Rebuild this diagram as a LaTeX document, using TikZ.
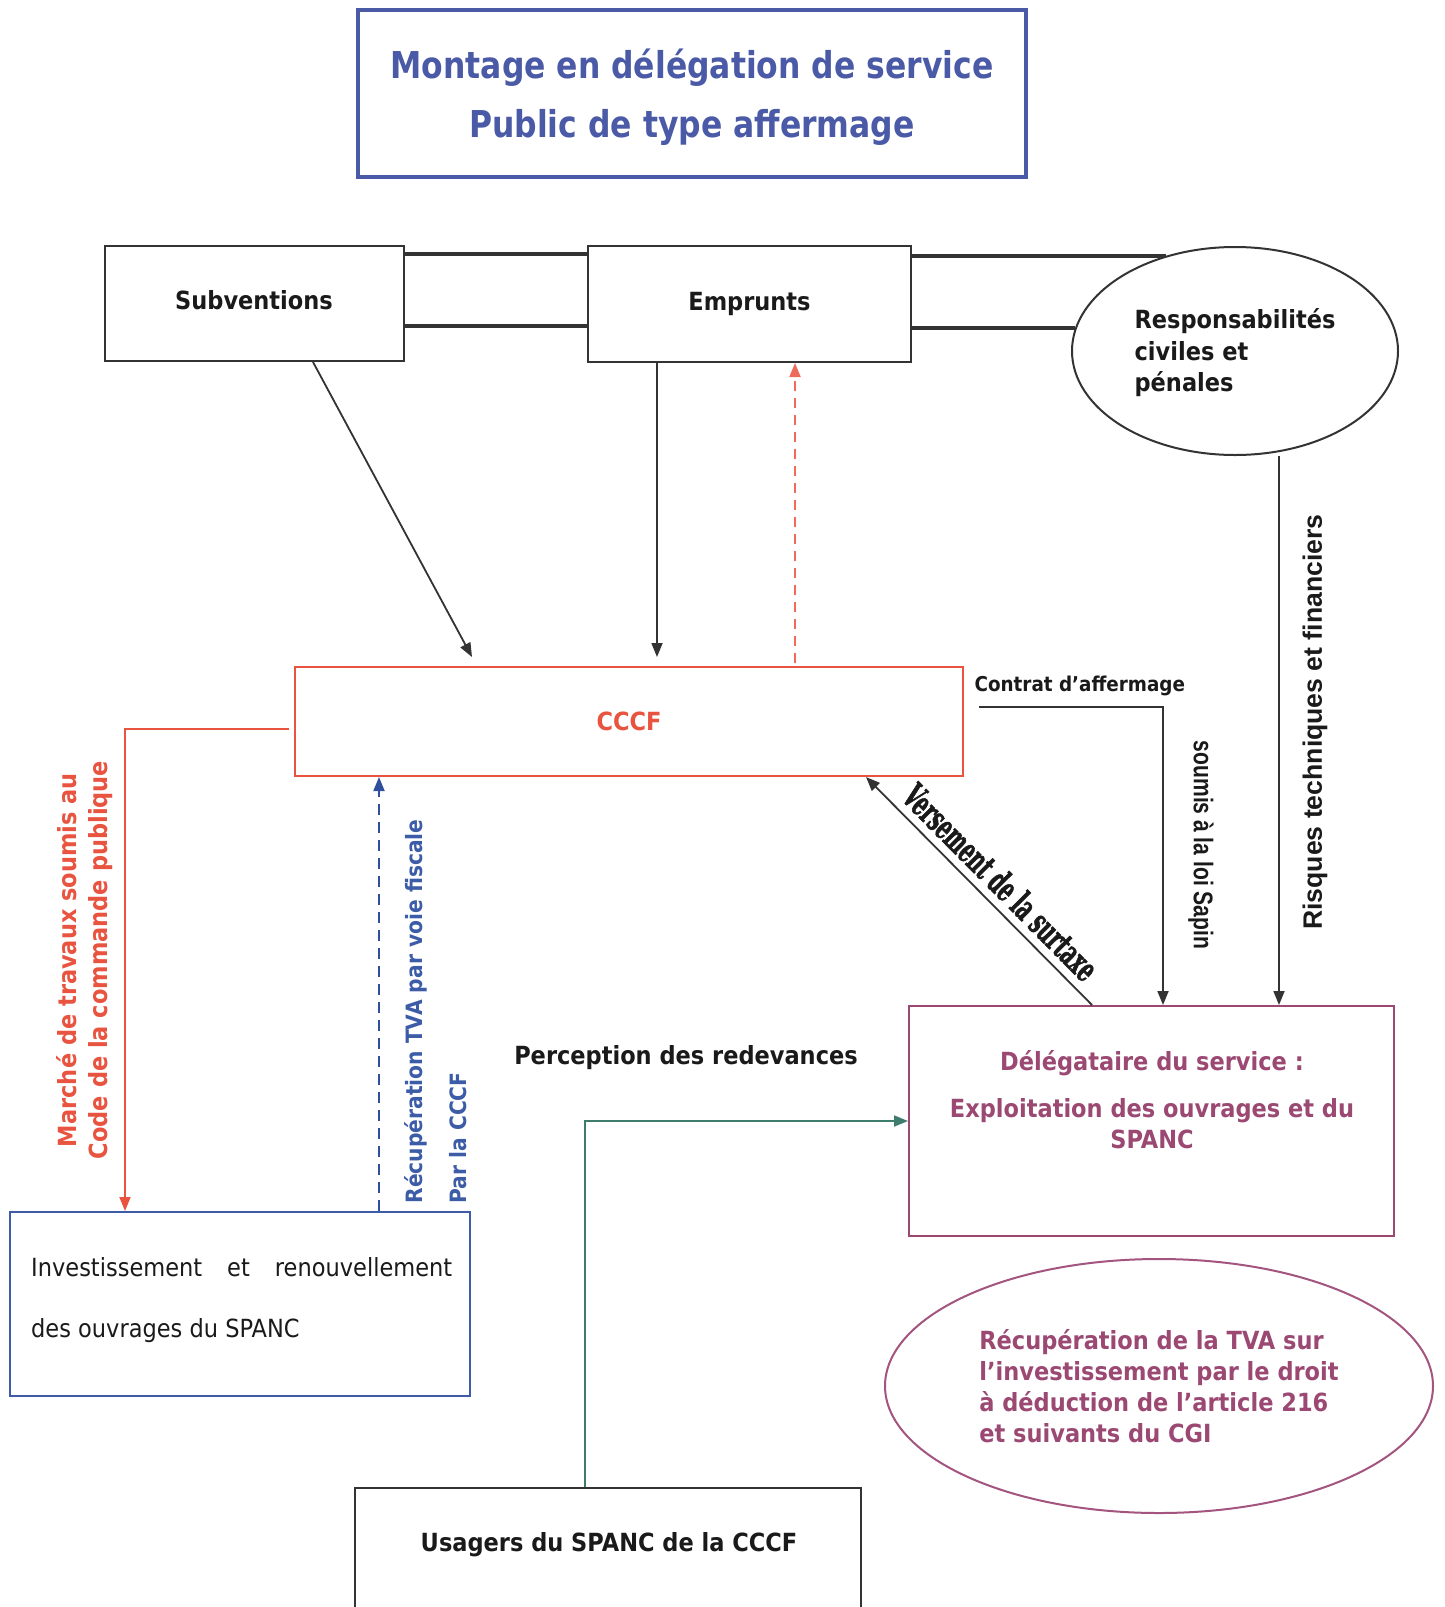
\documentclass[tikz,border=0pt]{standalone}
\usepackage{fontspec}
\usetikzlibrary{arrows.meta,shapes.geometric,calc}
\newfontfamily\tah[FakeStretch=0.9]{DejaVu Sans}
\newfontfamily\tahb[FakeStretch=0.85]{DejaVu Sans}
\newfontfamily\ari{Liberation Sans}
\newfontfamily\arin[FakeStretch=0.78]{Liberation Sans}
\newfontfamily\vers[FakeStretch=0.55,FakeBold=1.5]{DejaVu Serif}
\definecolor{tblue}{HTML}{4A5AA7}
\definecolor{cred}{HTML}{E8543F}
\definecolor{lred}{HTML}{EE6A5A}
\definecolor{purp}{HTML}{9B4873}
\definecolor{ppink}{HTML}{A3547F}
\definecolor{bblue}{HTML}{3D5CA8}
\definecolor{dblue}{HTML}{2F4E9C}
\definecolor{grn}{HTML}{3E7D6E}
\definecolor{dk}{HTML}{333333}
\definecolor{txt}{HTML}{1A1A1A}
\tikzset{
  bx/.style={draw=#1, line width=2pt, inner sep=0pt, fill=white},
  ell/.style={ellipse, draw=#1, line width=2pt, inner sep=0pt, fill=white},
  bf/.style={font=\tah\bfseries\fontsize{25}{31}\selectfont},
  tip/.style={-{Triangle[length=14pt,width=11pt]}},
  darr/.style={draw=dk, line width=1.8pt, tip},
  rarr/.style={draw=cred, line width=1.8pt, tip},
  rdash/.style={draw=lred, line width=1.8pt, dash pattern=on 10pt off 7pt, tip},
  bdash/.style={draw=dblue, line width=1.8pt, dash pattern=on 11pt off 7pt, tip},
  garr/.style={draw=grn, line width=1.8pt, tip},
  dbl/.style={draw=dk, line width=4pt},
}
\begin{document}
\begin{tikzpicture}[x=1pt,y=-1pt]
\useasboundingbox[fill=white] (0,0) rectangle (1444,1607);

% title
\node[bx=tblue, line width=3.5pt, minimum width=668pt, minimum height=167pt,
      font=\tahb\bfseries\fontsize{37}{59}\selectfont, text=tblue, align=center, text depth=0pt]
  (title) at (692,93.5) {Montage en délégation de service\\Public de type affermage};

% top row
\node[bx=dk, minimum width=299pt, minimum height=115pt, bf, text=txt, text depth=7pt]
  (subv) at (254,303.5) {Subventions};
\node[bx=dk, minimum width=323pt, minimum height=116pt, bf, text=txt]
  (empr) at (749.5,304) {Emprunts};
\node[ell=dk, minimum width=326pt, minimum height=208pt, align=left, text=txt,
      font=\tah\bfseries\fontsize{25}{31.5}\selectfont, text depth=2pt]
  (resp) at (1235,351) {Responsabilités\\civiles et\\pénales};

% double lines
\coordinate (q1) at (0,254);
\coordinate (q2) at (0,326);
\draw[dbl] (subv.east |- q1) -- (empr.west |- q1);
\draw[dbl] (subv.east |- q2) -- (empr.west |- q2);
\draw[dbl] (empr.east |- resp.126.7) -- (resp.126.7);
\draw[dbl] (empr.east |- resp.172.1) -- (resp.172.1);

% CCCF
\node[bx=cred, minimum width=668pt, minimum height=109pt, bf, text=cred]
  (cccf) at (629,721.5) {CCCF};

% delegataire
\node[bx=purp, minimum width=485pt, minimum height=230pt]
  (dlg) at (1151.5,1121) {};
\node[bf, text=purp, align=center, anchor=north, inner sep=0pt]
  (dlgtxt) at (1152,1050) {Délégataire du service :\\[16pt]Exploitation des ouvrages et du\\SPANC};

% investissement
\node[bx=bblue, minimum width=460pt, minimum height=184pt]
  (inv) at (240,1304) {};
\node[font=\tah\fontsize{25}{61}\selectfont, text=txt, align=left, anchor=north west, inner sep=0pt]
  (invtxt) at (31,1257) {\makebox[421pt][s]{Investissement et renouvellement}\\des ouvrages du SPANC};

% usagers
\node[bx=dk, minimum width=506pt, minimum height=142pt]
  (usag) at (608,1559) {};
\node[bf, text=txt] (usagtxt) at (609,1545) {Usagers du SPANC de la CCCF};

% TVA ellipse
\node[ell=ppink, minimum width=548pt, minimum height=254pt, bf, text=purp, align=left]
  (tva) at (1159,1386) {Récupération de la TVA sur\\l’investissement par le droit\\à déduction de l’article 216\\et suivants du CGI};

% labels
\node[bf, text=txt] (percep) at (686,1058) {Perception des redevances};
\node[font=\tah\bfseries\fontsize{20.4}{24}\selectfont, text=txt, anchor=west]
  (contrat) at (971,686) {Contrat d’affermage};
\node[font=\arin\bfseries\fontsize{27}{30}\selectfont, text=txt, rotate=-90]
  (sapin) at (1201,845) {soumis à la loi Sapin};
\node[font=\ari\bfseries\fontsize{26.6}{30}\selectfont, text=txt, rotate=90]
  (risq) at (1315,722) {Risques techniques et financiers};
\node[bf, text=cred, rotate=90, align=center]
  (marche) at (84.5,960) {Marché de travaux soumis au\\Code de la commande publique};
\node[font=\tah\bfseries\fontsize{22.5}{44}\selectfont, text=bblue, rotate=90, align=left, anchor=west]
  (tvalbl) at (436,1207) {Récupération TVA par voie fiscale\\Par la CCCF};
\node[font=\vers\bfseries\fontsize{35}{35}\selectfont, text=txt, rotate=-45.2, inner sep=0pt]
  (verstxt) at (1001,882) {Versement de la surtaxe};

% connectors
\coordinate (p1) at (313,0);
\coordinate (p1e) at (472,657);
\draw[darr] (subv.south -| p1) -- (p1e);
\coordinate (p2) at (657,657);
\draw[darr] (empr.south -| p2) -- (p2);
\coordinate (p3) at (795,663);
\draw[rdash] (p3) -- (empr.south -| p3);
\coordinate (p4) at (979,707);
\coordinate (p4x) at (1163,0);
\draw[darr] (p4) -| (dlg.north -| p4x);
\coordinate (p5) at (1279,0);
\draw[darr] (resp.south -| p5) -- (dlg.north -| p5);
\coordinate (p6) at (1092,0);
\coordinate (p6e) at (866,0);
\draw[darr] (dlg.north -| p6) -- (cccf.south -| p6e);
\coordinate (p7) at (125,729);
\draw[rarr, shorten <=5pt] (cccf.west |- p7) -| (inv.north -| p7);
\coordinate (p8) at (379,0);
\draw[bdash] (inv.north -| p8) -- (cccf.south -| p8);
\coordinate (p9) at (585,1121);
\draw[garr] (usag.north -| p9) |- (dlg.west |- p9);
\end{tikzpicture}
\end{document}
